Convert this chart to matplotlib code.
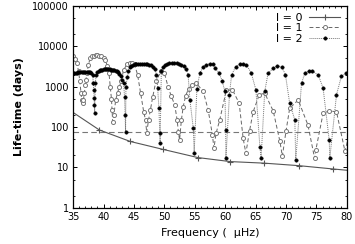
import numpy as np
import matplotlib
matplotlib.use("Agg")
import matplotlib.pyplot as plt
from matplotlib.ticker import LogLocator, MultipleLocator, NullFormatter

# l = 0 modes
f_l0 = [33.7, 39.3, 44.4, 49.8, 55.5, 60.8, 66.4, 72.1, 77.7, 80.5]
t_l0 = [310, 85, 44, 28, 17.6, 14, 12.8, 11.1, 9.2, 8.4]

# l = 1 modes
f_l1 = [35.0, 35.3, 35.6, 35.9, 36.1, 36.3, 36.4, 36.55, 36.7, 36.85, 37.0, 37.1, 37.3,
        37.5, 37.8, 38.1, 38.4, 38.7, 39.0, 39.3, 39.6, 40.0, 40.3, 40.6, 40.9, 41.1,
        41.3, 41.4, 41.5, 41.7, 42.0, 42.3, 42.6, 42.9, 43.3, 43.9, 44.3, 44.7, 45.1,
        45.6, 46.1, 46.6, 46.9, 47.1, 47.4, 47.7, 48.1, 48.6, 49.5, 50.0, 50.6, 51.1,
        51.7, 52.1, 52.3, 52.5, 52.8, 53.1, 53.5, 54.0, 54.6, 55.2, 56.4, 57.2, 57.9,
        58.15, 58.5, 59.1, 60.2, 61.2, 62.3, 62.95, 63.4, 64.0, 64.6, 65.6, 66.5, 67.9,
        69.0, 69.4, 70.0, 70.6, 72.0, 73.6, 74.7, 74.9, 76.1, 77.1, 78.3, 79.7, 80.3]
t_l1 = [5600, 4800, 3800, 2400, 1350, 690, 470, 400, 480, 700, 1100, 1480, 2150,
        3470, 5000, 5600, 5900, 6000, 6000, 5900, 5700, 5200, 4600, 3300, 2150, 1000,
        500, 265, 137, 200, 470, 700, 1000, 1350, 2600, 3650, 3800, 3800, 3600,
        1950, 690, 240, 150, 73, 150, 265, 570, 1350, 2500, 2200, 1000, 600,
        355, 150, 77, 48, 150, 320, 600, 900, 1100, 1240, 760, 265, 64,
        30, 70, 150, 830, 830, 390, 53, 22.5, 80, 240, 630, 690, 250,
        44, 19, 80, 290, 470, 113, 17, 27, 220, 250, 240, 25, 60]

# l = 2 modes
f_l2 = [35.0, 35.2, 35.4, 35.6, 35.8, 36.0, 36.2, 36.4, 36.6, 36.8, 37.0, 37.2, 37.4,
        37.6, 37.8, 38.0, 38.2, 38.32, 38.4, 38.46, 38.5, 38.54, 38.65, 38.8,
        39.0, 39.2, 39.4, 39.6, 39.8, 40.0, 40.2, 40.4, 40.6, 40.8, 41.0, 41.2, 41.4,
        41.6, 41.8, 42.0, 42.2, 42.4, 42.6, 42.8, 43.0, 43.3, 43.45, 43.55, 43.62,
        43.68, 43.9, 44.1, 44.3, 44.5, 44.8, 45.1, 45.4, 45.7, 46.0, 46.3, 46.6, 46.9,
        47.2, 47.5, 47.8, 48.1, 48.4, 48.7, 48.9, 49.1, 49.25, 49.3, 49.5, 49.8, 50.1,
        50.4, 50.8, 51.2, 51.6, 52.0, 52.4, 52.8, 53.2, 53.6, 53.9, 54.2, 54.75, 54.9,
        55.35, 55.85, 56.4, 56.9, 57.5, 58.0, 58.4, 59.0, 59.5, 59.95, 60.08, 60.12,
        60.7, 61.05, 61.75, 62.4, 62.95, 63.5, 64.3, 65.05, 65.7, 65.9, 66.5, 67.05,
        67.9, 68.55, 69.3, 69.9, 70.6, 71.45, 71.6, 72.55, 73.1, 73.8, 74.35, 75.3,
        76.1, 77.1, 77.2, 78.3, 79.1, 79.9]
t_l2 = [2150, 2180, 2200, 2230, 2250, 2270, 2290, 2310, 2330, 2340, 2350, 2350, 2340,
        2320, 2280, 2180, 1950, 1250, 830, 520, 355, 220, 1250, 2000,
        2300, 2450, 2550, 2600, 2650, 2680, 2700, 2700, 2700, 2690, 2680, 2660, 2640,
        2600, 2560, 2500, 2420, 2300, 2100, 1800, 1500, 1240, 570, 200, 77,
        1000, 1700, 2400, 3000, 3300, 3500, 3600, 3650, 3700, 3700, 3700, 3680, 3650,
        3600, 3500, 3350, 3100, 2700, 2000, 920, 300, 72, 41, 2400, 3000, 3400,
        3650, 3800, 3850, 3850, 3800, 3700, 3500, 3200, 2700, 2000, 470, 95, 23,
        900, 2200, 3150, 3500, 3700, 3600, 2850, 2150, 1400, 760, 85, 17,
        630, 1950, 3150, 3600, 3650, 3500, 2150, 830, 33, 17, 760, 2150,
        2850, 3300, 3050, 2000, 390, 150, 15, 1220, 2150, 2500, 2400, 1950,
        920, 48, 17, 630, 1800, 2150]

ref_level = 75

plt.rcParams['font.family'] = ['DejaVu Sans']
fig = plt.figure(figsize=(3.55, 2.44), dpi=100)
ax = fig.add_axes([0.206, 0.148, 0.771, 0.828])

ax.axhline(ref_level, color='#777777', lw=0.8, ls=(0, (5, 3)))
ax.plot(f_l0, t_l0, color='#555555', lw=0.8, marker='+', ms=5, mew=0.8, label='l = 0')
ax.plot(f_l1, t_l1, color='#666666', lw=0.7, ls=(0, (4, 2.5)), marker='o', ms=2.9,
        mfc='white', mec='#777777', mew=0.7, label='l = 1')
ax.plot(f_l2, t_l2, color='#777777', lw=0.7, ls=(0, (1, 1)), marker='o', ms=2.5,
        mfc='black', mec='black', mew=0.3, label='l = 2')

ax.set_yscale('log')
ax.set_xlim(35, 80)
ax.set_ylim(1, 100000)
ax.set_yticks([1, 10, 100, 1000, 10000, 100000])
ax.set_yticklabels(['1', '10', '100', '1000', '10000', '100000'])
ax.yaxis.set_minor_locator(LogLocator(base=10, subs=(2, 5)))
ax.yaxis.set_minor_formatter(NullFormatter())
ax.xaxis.set_major_locator(MultipleLocator(5))
ax.xaxis.set_minor_locator(MultipleLocator(1))
ax.tick_params(which='both', direction='in', top=True, right=True, labelsize=7, pad=3)
ax.tick_params(which='major', length=3, width=0.7)
ax.tick_params(which='minor', length=1.5, width=0.6)
for s in ax.spines.values():
    s.set_linewidth(0.9)

ax.set_xlabel('Frequency (  μHz)', fontsize=8, labelpad=4)
ax.set_ylabel('Life-time (days)', fontsize=8, fontweight='bold', labelpad=6)

leg = ax.legend(loc='upper right', frameon=False, markerfirst=False, fontsize=8,
                handlelength=2.8, handletextpad=0.6, labelspacing=0.05,
                borderaxespad=0.2)

fig.savefig('out.png', dpi=100)
